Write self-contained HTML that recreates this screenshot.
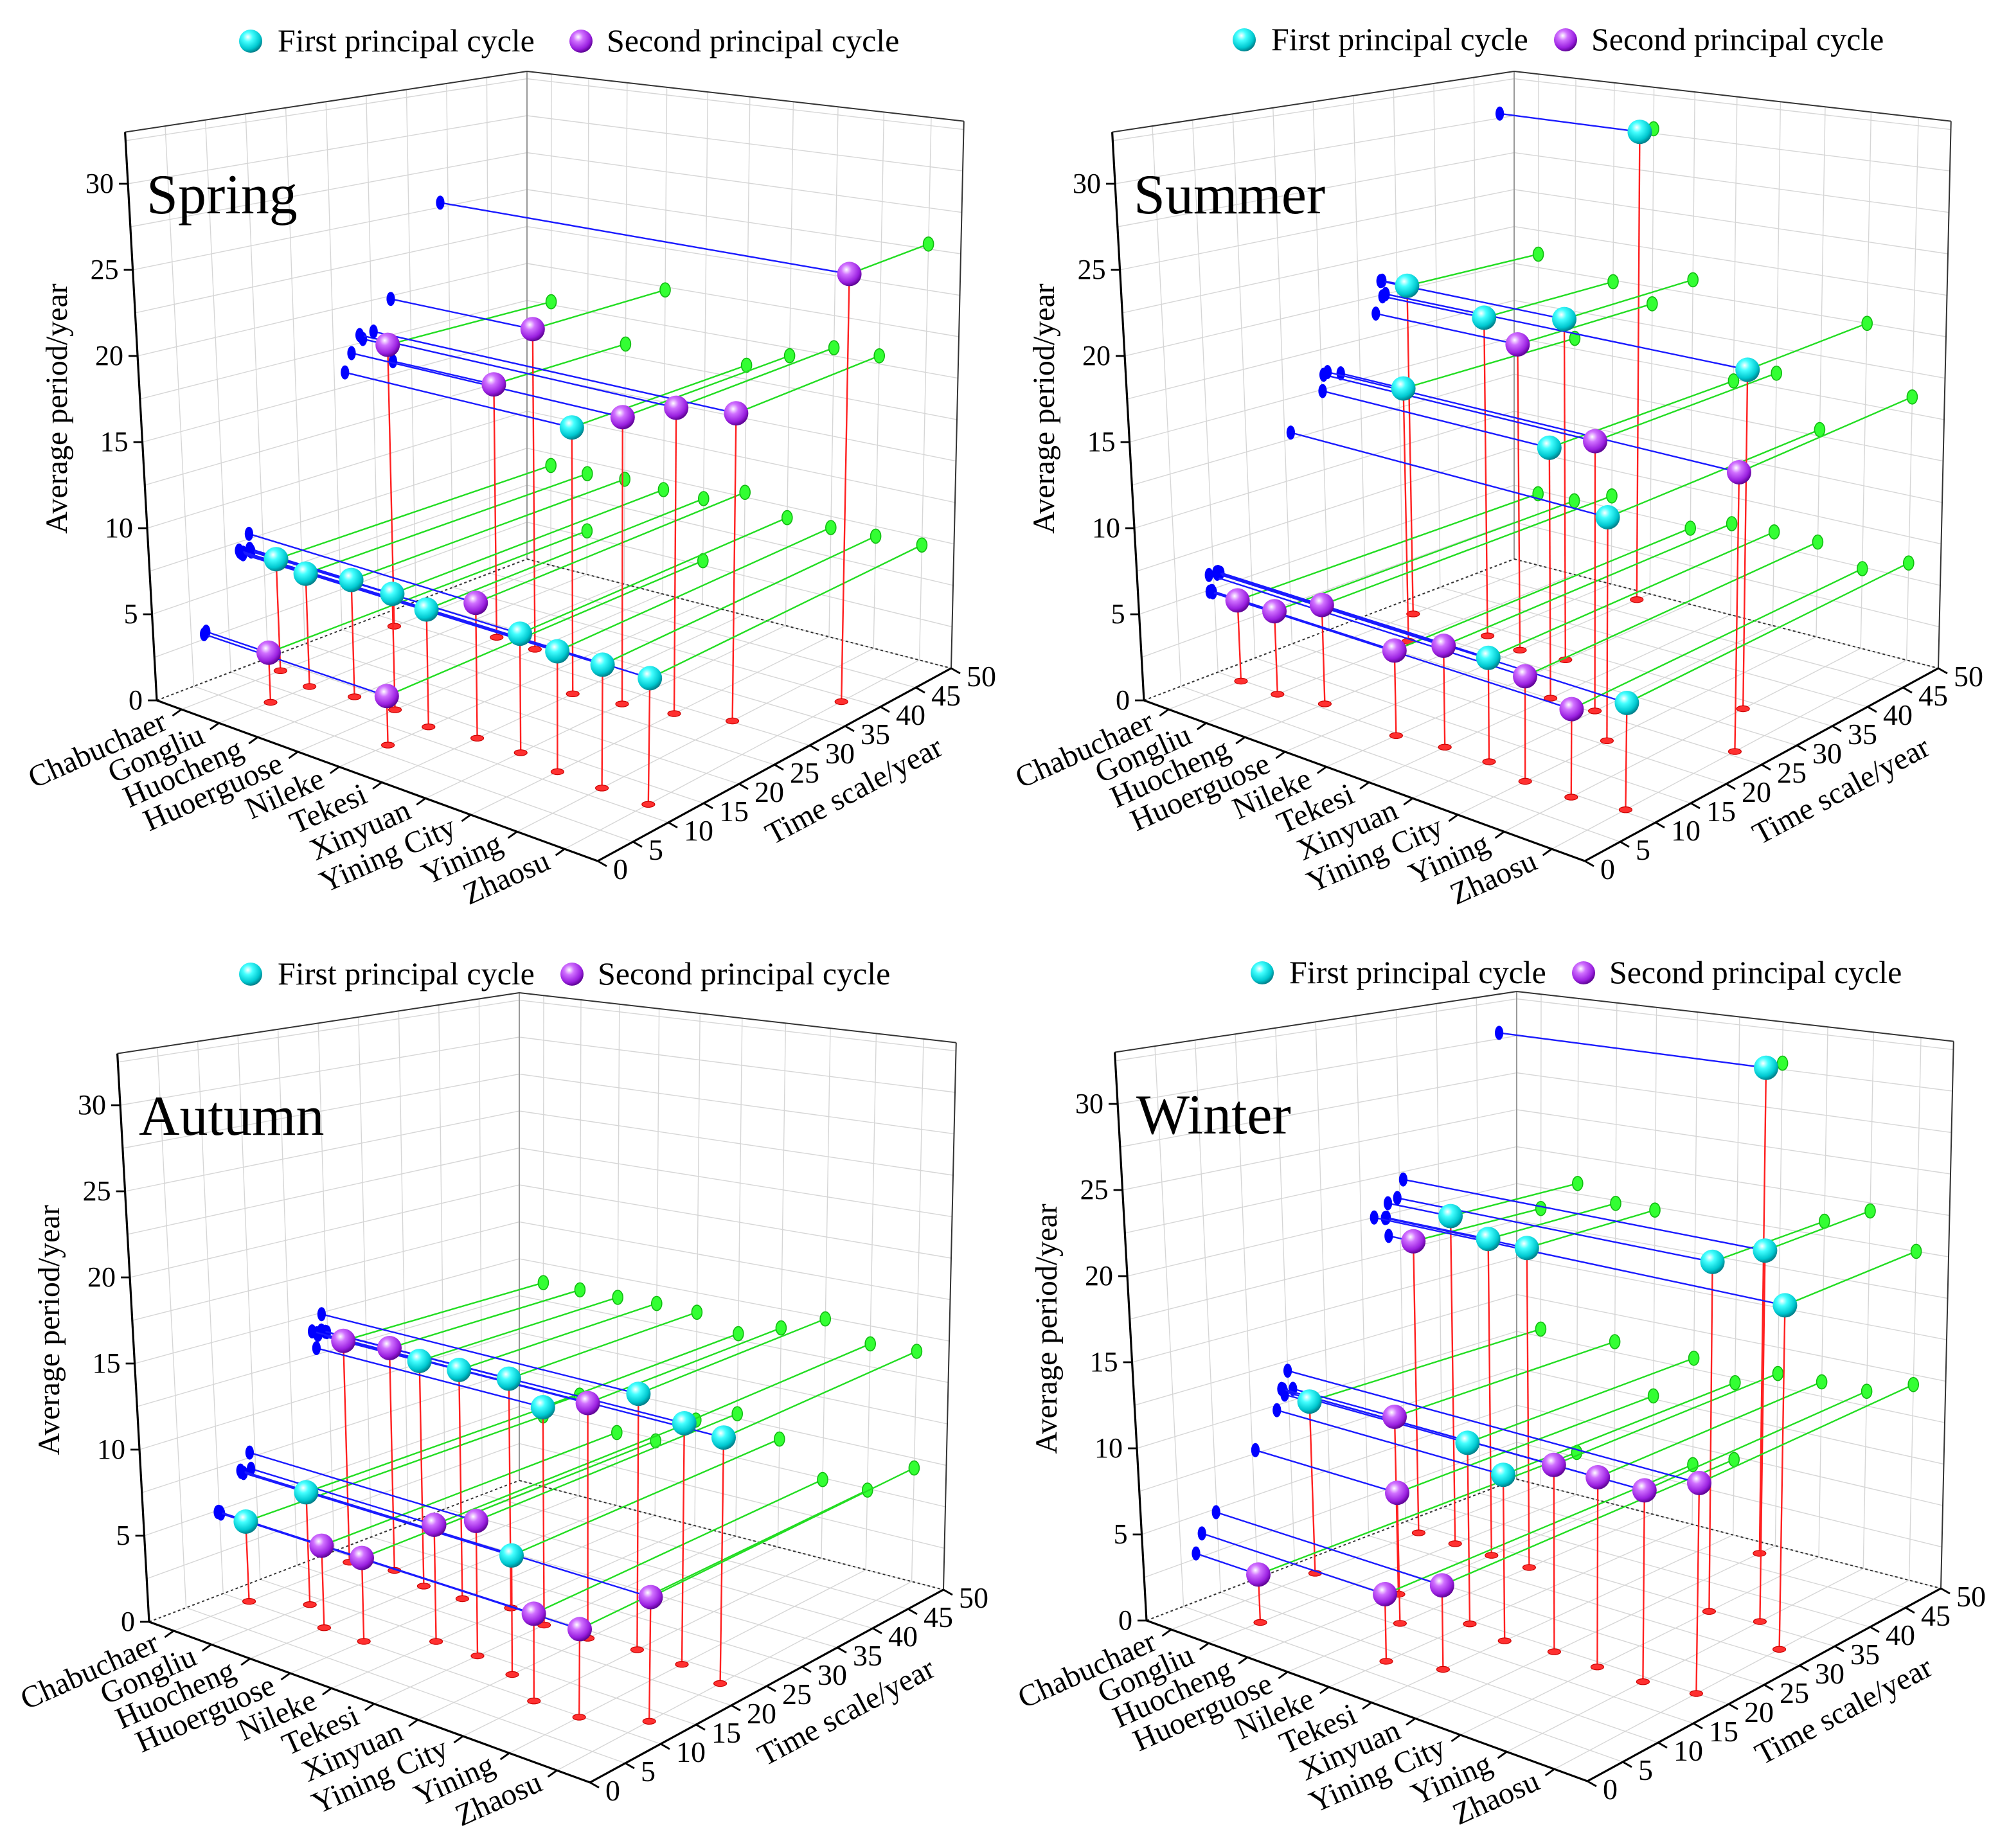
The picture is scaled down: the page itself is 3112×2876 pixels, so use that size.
<!DOCTYPE html>
<html><head><meta charset="utf-8"><title>Principal cycles</title>
<style>
html,body{margin:0;padding:0;background:#fff}
svg{display:block;font-family:"Liberation Serif","Times New Roman",serif}
</style></head>
<body>
<svg id="chart" xmlns="http://www.w3.org/2000/svg" width="3112" height="2876" viewBox="0 0 1556 1438">
<defs>
<radialGradient id="gCyan" cx="0.38" cy="0.32" r="0.7"><stop offset="0" stop-color="#ffffff"/><stop offset="0.3" stop-color="#4ff" /><stop offset="0.75" stop-color="#00c8d0"/><stop offset="1" stop-color="#007a85"/></radialGradient>
<radialGradient id="gPurple" cx="0.38" cy="0.32" r="0.7"><stop offset="0" stop-color="#ffffff"/><stop offset="0.3" stop-color="#d070ff"/><stop offset="0.75" stop-color="#9a20e0"/><stop offset="1" stop-color="#5a0090"/></radialGradient>
</defs>
</svg>
<script>
// ---- data ----
const stations = ['Chabuchaer','Gongliu','Huocheng','Huoerguose','Nileke','Tekesi','Xinyuan','Yining City','Yining','Zhaosu'];
const timeTicks = [0,5,10,15,20,25,30,35,40,45,50];
const periodTicks = [0,5,10,15,20,25,30];

const springFirstPeriod  = [6.7,6.7,6.9,6.8,6.8,15.9,6.8,6.8,6.9,7.0];
const springFirstScale   = [13.4,12.3,13.2,13.3,12.3,26.4,13.2,12.1,11.9,11.8];
const springSecondPeriod = [17.7,2.9,15.8,19.8,2.8,7.8,17.0,18.0,18.0,25.3];
const springSecondScale  = [28.8,7.0,32.6,32.5,6.7,13.2,27.3,28.4,30.2,39.0];

const summerFirstPeriod  = [20.9,15.7,19.9,30.3,20.9,14.9,5.9,12.9,20.0,5.9];
const summerFirstScale   = [33.1,27.5,33.1,48.2,32.9,25.1,10.6,20.8,33.5,10.4];
const summerSecondPeriod = [4.8,4.9,5.8,18.9,4.9,5.8,15.9,5.9,4.9,16.0];
const summerSecondScale  = [9.8,9.7,10.9,32.2,9.6,10.5,25.3,9.4,9.4,25.8];

const autumnFirstPeriod  = [4.75,6.7,13.7,13.8,13.75,12.9,6.8,14.9,13.9,14.0];
const autumnFirstScale   = [10.2,13.4,23.7,23.6,24.7,23.5,13.1,24.3,24.2,23.0];
const autumnSecondPeriod = [13.7,13.7,4.8,4.85,6.8,7.8,13.8,4.9,4.9,6.9];
const autumnSecondScale  = [23.8,24.9,10.1,10.1,14.4,14.3,23.6,9.9,9.8,13.0];

const winterFirstPeriod  = [10.5,20.7,19.8,19.8,10.7,9.7,30.4,20.9,22.0,20.0];
const winterFirstScale   = [19.5,33.5,33.3,33.1,19.4,18.4,47.8,34.7,35.5,31.7];
const winterSecondPeriod = [18.6,2.8,10.7,7.7,3.85,4.8,10.85,10.9,10.9,11.9];
const winterSecondScale  = [33.5,7.0,20.6,15.4,7.9,9.9,19.3,19.1,19.1,20.0];

const panels = [
  {name:'Spring', ox:0, oy:0, lg:[195,32,452], fp:springFirstPeriod, fs:springFirstScale, sp:springSecondPeriod, ss:springSecondScale},
  {name:'Summer', ox:768, oy:0, lg:[968,31,1218], fp:summerFirstPeriod, fs:summerFirstScale, sp:summerSecondPeriod, ss:summerSecondScale},
  {name:'Autumn', ox:-6, oy:717, lg:[195,758,445], fp:autumnFirstPeriod, fs:autumnFirstScale, sp:autumnSecondPeriod, ss:autumnSecondScale},
  {name:'Winter', ox:770, oy:716, lg:[982,757,1232], fp:winterFirstPeriod, fs:winterFirstScale, sp:winterSecondPeriod, ss:winterSecondScale}
];

const svg = document.getElementById('chart');
const NS = 'http://www.w3.org/2000/svg';
const ZMAX = 33, TMAX = 50;
function mk(tag, attrs, parent){ const e=document.createElementNS(NS,tag); for(const k in attrs) e.setAttribute(k,attrs[k]); (parent||svg).appendChild(e); return e; }
function sPos(i){ return 0.056+0.0837*i+0.00143*i*i; }
function tPos(v){ return v/TMAX; }
function proj(p,s,t,z){
  const w00=(1-s)*(1-t), w10=s*(1-t), w11=s*t, w01=(1-s)*t;
  const x=w00*122+w10*465+w11*740+w01*410;
  const y=w00*545+w10*670+w11*520+w01*435;
  const hz=w00*13.4+w10*14.5+w11*12.9+w01*11.5;
  const lean=w00*-0.75+w10*0.2+w11*0.3;
  return [p.ox+x+lean*z, p.oy+y-hz*z];
}
function line(g,a,b,st,w){ return mk('line',{x1:a[0].toFixed(1),y1:a[1].toFixed(1),x2:b[0].toFixed(1),y2:b[1].toFixed(1),stroke:st,'stroke-width':w},g); }

panels.forEach(p=>{
  const g = mk('g',{});
  
  
  const grid = mk('g',{},g);
  
  
  const gc='#d6d6d6';
  timeTicks.forEach(v=>{ line(grid,proj(p,0,tPos(v),0),proj(p,1,tPos(v),0),gc,0.7); });
  stations.forEach((n,i)=>{ line(grid,proj(p,sPos(i),0,0),proj(p,sPos(i),1,0),gc,0.7); });
  timeTicks.forEach(v=>{ line(grid,proj(p,0,tPos(v),0),proj(p,0,tPos(v),ZMAX),gc,0.7); });
  for(let z=2.5; z<=ZMAX; z+=2.5){ line(grid,proj(p,0,0,z),proj(p,0,1,z),gc,0.7); }
  stations.forEach((n,i)=>{ line(grid,proj(p,sPos(i),1,0),proj(p,sPos(i),1,ZMAX),gc,0.7); });
  for(let z=2.5; z<=ZMAX; z+=2.5){ line(grid,proj(p,0,1,z),proj(p,1,1,z),gc,0.7); }
  line(g,proj(p,0,1,0),proj(p,0,1,ZMAX),'#999',1);
  line(g,proj(p,0,0,ZMAX),proj(p,0,1,ZMAX),'#333',1);
  line(g,proj(p,0,1,ZMAX),proj(p,1,1,ZMAX),'#333',1);
  line(g,proj(p,1,1,0),proj(p,1,1,ZMAX),'#333',1);
  mk('line',{x1:proj(p,0,0,0)[0],y1:proj(p,0,0,0)[1],x2:proj(p,0,1,0)[0],y2:proj(p,0,1,0)[1],stroke:'#333','stroke-width':1,'stroke-dasharray':'2,2'},g);
  mk('line',{x1:proj(p,0,1,0)[0],y1:proj(p,0,1,0)[1],x2:proj(p,1,1,0)[0],y2:proj(p,1,1,0)[1],stroke:'#333','stroke-width':1,'stroke-dasharray':'2,2'},g);
  const za = line(g,proj(p,0,0,0),proj(p,0,0,ZMAX),'#000',1.6);
  
  
  periodTicks.forEach(v=>{
    const a=proj(p,0,0,v);
    line(g,a,[a[0]-7,a[1]],'#000',1.4);
    const t=mk('text',{x:(a[0]-11).toFixed(1),y:(a[1]+7).toFixed(1),'text-anchor':'end','font-size':22},g);
    t.textContent=v;
    
    
  });
  const sa = line(g,proj(p,0,0,0),proj(p,1,0,0),'#000',1.6);
  
  
  stations.forEach((n,i)=>{
    const a=proj(p,sPos(i),0,0);
    line(g,a,[a[0]-7,a[1]+5],'#000',1.4);
    const t=mk('text',{x:0,y:0,'text-anchor':'end','font-size':24,transform:`translate(${(a[0]-10).toFixed(1)},${(a[1]+15).toFixed(1)}) rotate(-24)`},g);
    t.textContent=n;
    
    
  });
  const ta = line(g,proj(p,1,0,0),proj(p,1,1,0),'#000',1.6);
  
  
  timeTicks.forEach(v=>{
    const a=proj(p,1,tPos(v),0);
    line(g,a,[a[0]+7,a[1]+4],'#000',1.4);
    const t=mk('text',{x:(a[0]+12).toFixed(1),y:(a[1]+14).toFixed(1),'text-anchor':'start','font-size':23},g);
    t.textContent=v;
    
    
  });
  const yt=mk('text',{x:0,y:0,'text-anchor':'middle','font-size':24,transform:`translate(${p.ox+52},${p.oy+318}) rotate(-90)`},g);
  yt.textContent='Average period/year';
  
  
  const xt=mk('text',{x:0,y:0,'text-anchor':'middle','font-size':24,transform:`translate(${p.ox+668},${p.oy+622}) rotate(-28)`},g);
  xt.textContent='Time scale/year';
  
  
  const st=mk('text',{x:p.ox+114,y:p.oy+166,'font-size':44},g);
  st.textContent=p.name;
  
  
  const lg=mk('g',{},g);
  
  
  const l1=mk('circle',{cx:p.lg[0],cy:p.lg[1],r:9,fill:'url(#gCyan)'},lg);
  
  
  const lt1=mk('text',{x:p.lg[0]+21,y:p.lg[1]+8,'font-size':25},lg);
  lt1.textContent='First principal cycle';
  
  
  const l2=mk('circle',{cx:p.lg[2],cy:p.lg[1],r:9,fill:'url(#gPurple)'},lg);
  
  
  const lt2=mk('text',{x:p.lg[2]+20,y:p.lg[1]+8,'font-size':25},lg);
  lt2.textContent='Second principal cycle';
  
  

  const pts=[];
  stations.forEach((n,i)=>{
    pts.push({i, per:p.fp[i], sc:p.fs[i], kind:'first'});
    pts.push({i, per:p.sp[i], sc:p.ss[i], kind:'second'});
  });
  const lines=mk('g',{},g);
  
  
  pts.forEach(q=>{
    const s=sPos(q.i), t=tPos(q.sc);
    const c=proj(p,s,t,q.per), b=proj(p,0,t,q.per), gr=proj(p,s,1,q.per), f=proj(p,s,t,0);
    line(lines,c,b,'#1a1aff',1.2);
    line(lines,c,gr,'#22dd22',1.2);
    line(lines,c,f,'#ff2020',1.2);
    const e1=mk('ellipse',{cx:b[0].toFixed(1),cy:b[1].toFixed(1),rx:3.3,ry:5.5,fill:'#0000ff'},lines);
    
    
    const e2=mk('ellipse',{cx:gr[0].toFixed(1),cy:gr[1].toFixed(1),rx:4,ry:5.5,fill:'#33ff33',stroke:'#11bb11','stroke-width':0.8},lines);
    
    
    const e3=mk('ellipse',{cx:f[0].toFixed(1),cy:f[1].toFixed(1),rx:5,ry:2.3,fill:'#ff3030',stroke:'#cc0000','stroke-width':0.6},lines);
    
    
  });
  pts.sort((a,b)=>((1-sPos(b.i))+tPos(b.sc))-((1-sPos(a.i))+tPos(a.sc)));
  pts.forEach(q=>{
    const c=proj(p,sPos(q.i),tPos(q.sc),q.per);
    const sp=mk('circle',{cx:c[0].toFixed(1),cy:c[1].toFixed(1),r:9.5,fill:q.kind==='first'?'url(#gCyan)':'url(#gPurple)'},g);
    
    
  });
  svg.appendChild(g);
});
</script>
</body></html>
